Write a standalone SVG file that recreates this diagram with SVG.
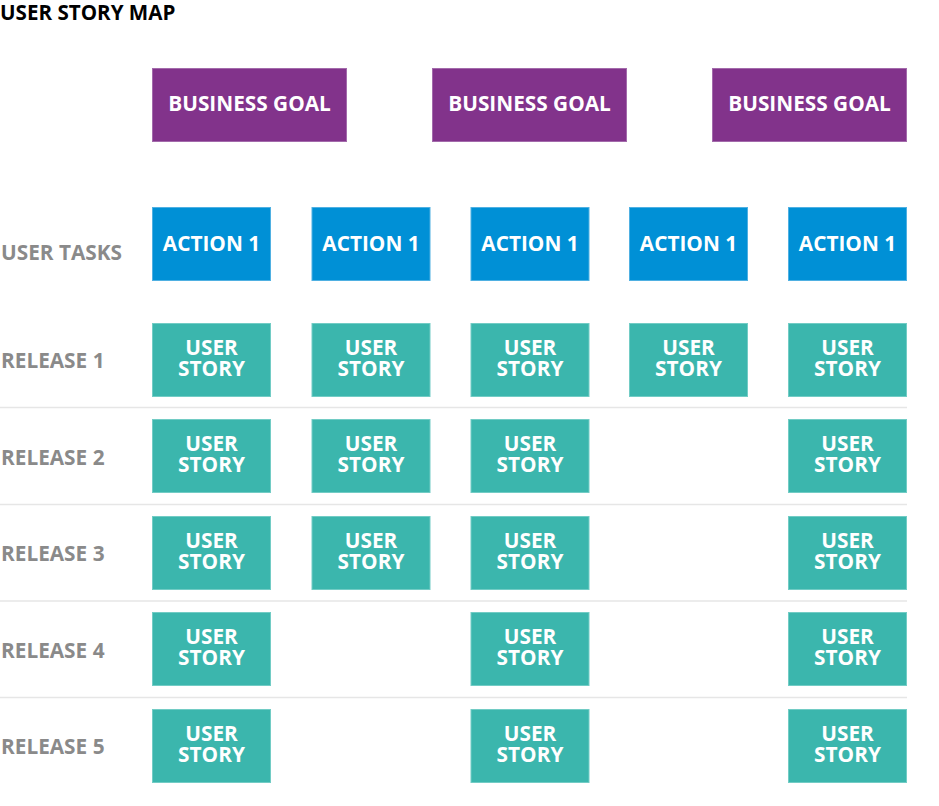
<svg xmlns="http://www.w3.org/2000/svg" width="939" height="806" viewBox="0 0 939 806">
<style>
text{font-family:"Open Sans","Noto Sans","Liberation Sans",sans-serif;font-weight:bold}
.t{fill:#000;font-size:20.6px}
.lb{fill:#8a8a8a;font-size:20.8px}
.w{fill:#fff;font-size:20.8px;text-anchor:middle}
.goal{fill:#82338b;stroke:#a36aab;stroke-width:1}
.act{fill:#0090d6;stroke:#4fb0e2;stroke-width:1}
.st{fill:#3bb6ad;stroke:#72ccc5;stroke-width:1}
.sep{stroke:#e6e6e6;stroke-width:1.5}
</style>
<rect width="939" height="806" fill="#fff"/>
<text class="t" x="0" y="20">USER STORY MAP</text>
<g id="labels">
<text class="lb" x="1" y="260">USER TASKS</text>
<text class="lb" x="1" y="368">RELEASE 1</text>
<text class="lb" x="1" y="465">RELEASE 2</text>
<text class="lb" x="1" y="561">RELEASE 3</text>
<text class="lb" x="1" y="658">RELEASE 4</text>
<text class="lb" x="1" y="754">RELEASE 5</text>
</g>
<g id="separators">
<line class="sep" x1="0" y1="407.5" x2="907" y2="407.5"/>
<line class="sep" x1="0" y1="504.5" x2="907" y2="504.5"/>
<line class="sep" x1="0" y1="601" x2="907" y2="601"/>
<line class="sep" x1="0" y1="697.5" x2="907" y2="697.5"/>
</g>
<g id="goal1"><rect class="goal" x="152.5" y="68.5" width="194" height="73"/><text class="w" x="249.5" y="111">BUSINESS GOAL</text></g>
<g id="goal2"><rect class="goal" x="432.5" y="68.5" width="194" height="73"/><text class="w" x="529.5" y="111">BUSINESS GOAL</text></g>
<g id="goal3"><rect class="goal" x="712.5" y="68.5" width="194" height="73"/><text class="w" x="809.5" y="111">BUSINESS GOAL</text></g>
<g id="action1"><rect class="act" x="152.5" y="207.5" width="118" height="73"/><text class="w" x="211.5" y="251">ACTION 1</text></g>
<g id="action2"><rect class="act" x="312" y="207.5" width="118" height="73"/><text class="w" x="371" y="251">ACTION 1</text></g>
<g id="action3"><rect class="act" x="471" y="207.5" width="118" height="73"/><text class="w" x="530" y="251">ACTION 1</text></g>
<g id="action4"><rect class="act" x="629.5" y="207.5" width="118" height="73"/><text class="w" x="688.5" y="251">ACTION 1</text></g>
<g id="action5"><rect class="act" x="788.5" y="207.5" width="118" height="73"/><text class="w" x="847.5" y="251">ACTION 1</text></g>
<g id="s1_1"><rect class="st" x="152.5" y="323.5" width="118" height="73"/><text class="w" y="355"><tspan x="211.5">USER</tspan><tspan x="211.5" dy="21">STORY</tspan></text></g>
<g id="s1_2"><rect class="st" x="312" y="323.5" width="118" height="73"/><text class="w" y="355"><tspan x="371">USER</tspan><tspan x="371" dy="21">STORY</tspan></text></g>
<g id="s1_3"><rect class="st" x="471" y="323.5" width="118" height="73"/><text class="w" y="355"><tspan x="530">USER</tspan><tspan x="530" dy="21">STORY</tspan></text></g>
<g id="s1_4"><rect class="st" x="629.5" y="323.5" width="118" height="73"/><text class="w" y="355"><tspan x="688.5">USER</tspan><tspan x="688.5" dy="21">STORY</tspan></text></g>
<g id="s1_5"><rect class="st" x="788.5" y="323.5" width="118" height="73"/><text class="w" y="355"><tspan x="847.5">USER</tspan><tspan x="847.5" dy="21">STORY</tspan></text></g>
<g id="s2_1"><rect class="st" x="152.5" y="419.5" width="118" height="73"/><text class="w" y="451"><tspan x="211.5">USER</tspan><tspan x="211.5" dy="21">STORY</tspan></text></g>
<g id="s2_2"><rect class="st" x="312" y="419.5" width="118" height="73"/><text class="w" y="451"><tspan x="371">USER</tspan><tspan x="371" dy="21">STORY</tspan></text></g>
<g id="s2_3"><rect class="st" x="471" y="419.5" width="118" height="73"/><text class="w" y="451"><tspan x="530">USER</tspan><tspan x="530" dy="21">STORY</tspan></text></g>
<g id="s2_5"><rect class="st" x="788.5" y="419.5" width="118" height="73"/><text class="w" y="451"><tspan x="847.5">USER</tspan><tspan x="847.5" dy="21">STORY</tspan></text></g>
<g id="s3_1"><rect class="st" x="152.5" y="516.5" width="118" height="73"/><text class="w" y="548"><tspan x="211.5">USER</tspan><tspan x="211.5" dy="21">STORY</tspan></text></g>
<g id="s3_2"><rect class="st" x="312" y="516.5" width="118" height="73"/><text class="w" y="548"><tspan x="371">USER</tspan><tspan x="371" dy="21">STORY</tspan></text></g>
<g id="s3_3"><rect class="st" x="471" y="516.5" width="118" height="73"/><text class="w" y="548"><tspan x="530">USER</tspan><tspan x="530" dy="21">STORY</tspan></text></g>
<g id="s3_5"><rect class="st" x="788.5" y="516.5" width="118" height="73"/><text class="w" y="548"><tspan x="847.5">USER</tspan><tspan x="847.5" dy="21">STORY</tspan></text></g>
<g id="s4_1"><rect class="st" x="152.5" y="612.5" width="118" height="73"/><text class="w" y="644"><tspan x="211.5">USER</tspan><tspan x="211.5" dy="21">STORY</tspan></text></g>
<g id="s4_3"><rect class="st" x="471" y="612.5" width="118" height="73"/><text class="w" y="644"><tspan x="530">USER</tspan><tspan x="530" dy="21">STORY</tspan></text></g>
<g id="s4_5"><rect class="st" x="788.5" y="612.5" width="118" height="73"/><text class="w" y="644"><tspan x="847.5">USER</tspan><tspan x="847.5" dy="21">STORY</tspan></text></g>
<g id="s5_1"><rect class="st" x="152.5" y="709.5" width="118" height="73"/><text class="w" y="741"><tspan x="211.5">USER</tspan><tspan x="211.5" dy="21">STORY</tspan></text></g>
<g id="s5_3"><rect class="st" x="471" y="709.5" width="118" height="73"/><text class="w" y="741"><tspan x="530">USER</tspan><tspan x="530" dy="21">STORY</tspan></text></g>
<g id="s5_5"><rect class="st" x="788.5" y="709.5" width="118" height="73"/><text class="w" y="741"><tspan x="847.5">USER</tspan><tspan x="847.5" dy="21">STORY</tspan></text></g>
<g id="connectors"/>
</svg>
